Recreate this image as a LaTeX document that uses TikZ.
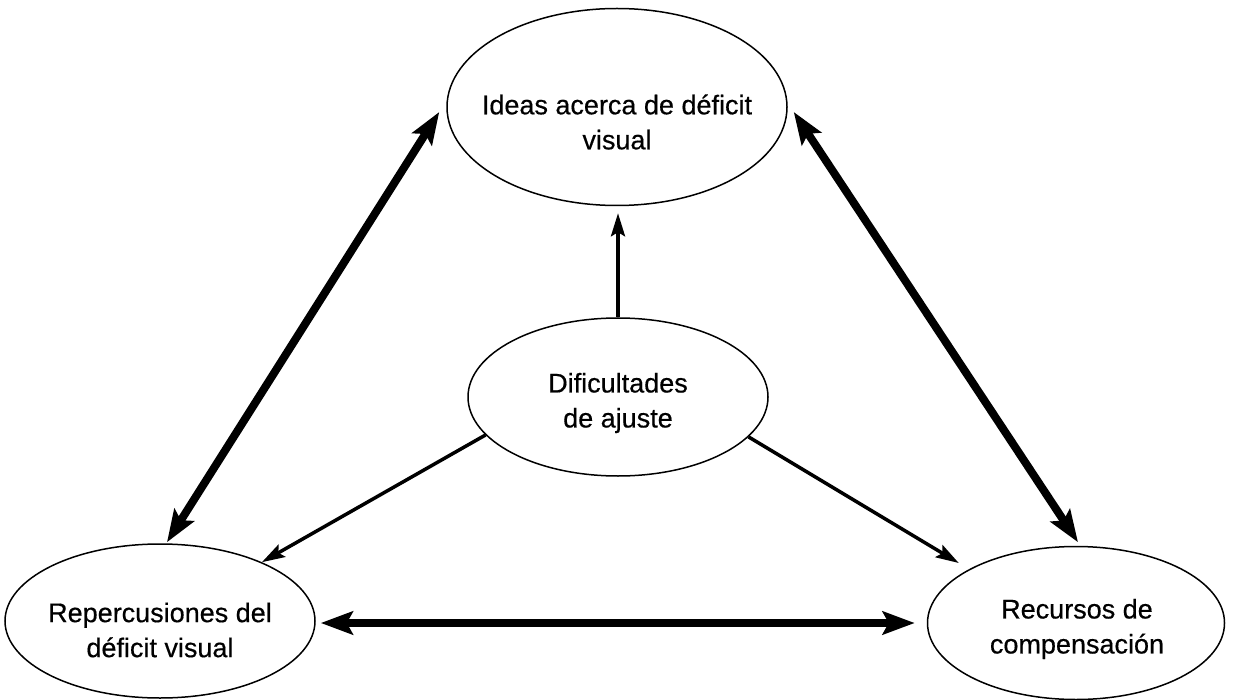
\documentclass[tikz,border=0pt]{standalone}
\usepackage{fontspec}
\setmainfont{Liberation Sans}
\newfontfamily\lblfont{Liberation Sans}[FakeBold=0.5]
\usetikzlibrary{shapes.geometric,arrows.meta,calc}
\begin{document}
\begin{tikzpicture}[x=1pt,y=-1pt,
  oval/.style={draw, ellipse, line width=1.5pt, inner sep=0pt},
  lbl/.style={align=center, font=\lblfont\fontsize{27}{35}\selectfont, inner sep=0pt},
  bold link/.style={line width=8pt,
    {Stealth[length=32pt,width=23pt,inset=6pt]}-{Stealth[length=32pt,width=23pt,inset=6pt]}},
  thin link/.style={line width=3.5pt, -{Stealth[length=23pt,width=14pt,inset=4pt]}}]
\useasboundingbox (0,0) rectangle (1236,700);

% the four ellipses
\node[oval, minimum width=340pt, minimum height=197pt] (ideas)  at (617,107) {};
\node[oval, minimum width=300pt, minimum height=158pt] (dific)  at (618,397) {};
\node[oval, minimum width=310pt, minimum height=154pt] (reperc) at (160,621) {};
\node[oval, minimum width=297pt, minimum height=153pt] (recur)  at (1076,623) {};

% their texts
\node[lbl] (ideas-t)  at (617,122) {Ideas acerca de déficit\\visual};
\node[lbl] (dific-t)  at (618,403) {Dificultades\\de ajuste};
\node[lbl] (reperc-t) at (160,630) {Repercusiones del\\déficit visual};
\node[lbl] (recur-t)  at (1077,629) {Recursos de\\compensación};

% two-way links round the triangle
\draw[bold link] ($(reperc.north)+(7,-1)$) -- ($(ideas.west)+(-7,5)$);
\draw[bold link] ($(ideas.east)+(6,5)$) -- ($(recur.north)+(2,-3.5)$);
\draw[bold link] ($(reperc.east)+(5,2)$) -- ($(recur.west)+(-12,0)$);

% one-way links out of the centre
\draw[thin link] (dific.north) -- ($(ideas.south)+(1,7)$);
\draw[thin link] (dific.196) -- (reperc.30);
\draw[thin link] (dific.343) -- ($(recur.west)+(32,-60)$);
\end{tikzpicture}
\end{document}
